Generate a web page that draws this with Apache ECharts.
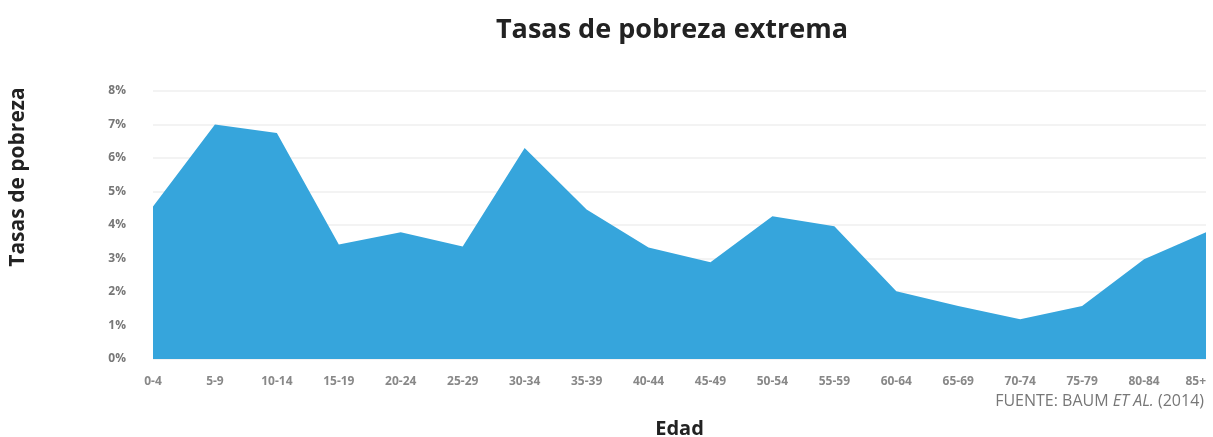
<!DOCTYPE html>
<html>
<head>
<meta charset="utf-8">
<script src="https://cdn.jsdelivr.net/npm/echarts@6/dist/echarts.min.js"></script>
<style>
  html, body { margin: 0; padding: 0; background: #fff; }
  #chart { width: 1213px; height: 437px; }
</style>
</head>
<body>
<div id="chart"></div>
<script>
  // grupos de edad
  const categories = ['0-4', '5-9', '10-14', '15-19', '20-24', '25-29', '30-34', '35-39', '40-44',
    '45-49', '50-54', '55-59', '60-64', '65-69', '70-74', '75-79', '80-84', '85+']
  // tasa de pobreza extrema (%)
  const rates = [4.55, 7.0, 6.75, 3.42, 3.78, 3.36, 6.3, 4.46, 3.33,
    2.89, 4.26, 3.96, 2.02, 1.58, 1.19, 1.58, 2.98, 3.78]
  const yTicks = { min: 0, max: 8, interval: 1 }

  const chart = echarts.init(document.getElementById('chart'))
  chart.setOption({
    animation: false,
    title: [{
      text: 'Tasas de pobreza extrema',
      left: 667,
      top: 12,
      textAlign: 'center',
      textStyle: { fontFamily: 'Open Sans', fontWeight: 'bold', fontSize: 27, color: '#222' }
    }, {
      text: 'FUENTE: BAUM {i|ET AL.} (2014)',
      right: 4,
      top: 388,
      textStyle: {
        fontFamily: 'Open Sans', fontWeight: 'normal', fontSize: 16, color: '#777',
        rich: { i: { fontFamily: 'Open Sans', fontStyle: 'italic', fontSize: 16, color: '#777' } }
      }
    }],
    // título vertical del eje y
    graphic: [{
      type: 'text',
      x: 18,
      y: 177,
      rotation: Math.PI / 2,
      style: {
        text: 'Tasas de pobreza',
        fontFamily: 'Open Sans',
        fontWeight: 'bold',
        fontSize: 21,
        fill: '#222',
        align: 'center',
        verticalAlign: 'middle'
      }
    }],
    grid: { left: 153, right: 7, top: 91, bottom: 78, outerBoundsMode: 'none', containLabel: false },
    xAxis: {
      type: 'category',
      data: categories,
      boundaryGap: false,
      name: 'Edad',
      nameLocation: 'middle',
      nameGap: 60,
      nameTextStyle: { fontFamily: 'Open Sans', fontWeight: 'bold', fontSize: 20, color: '#222' },
      axisLine: { show: false },
      axisTick: { show: false },
      axisLabel: {
        margin: 17, fontFamily: 'Open Sans', fontWeight: 'bold', fontSize: 12, color: '#888',
        interval: 0, alignMaxLabel: 'right'
      },
      splitLine: { show: false }
    },
    yAxis: {
      type: 'value',
      min: yTicks.min,
      max: yTicks.max,
      interval: yTicks.interval,
      axisLine: { show: false },
      axisTick: { show: false },
      axisLabel: { margin: 27, formatter: '{value}%', fontFamily: 'Open Sans', fontWeight: 'bold', fontSize: 12, color: '#777' },
      splitLine: { show: true, lineStyle: { color: '#f3f3f3', width: 2 } }
    },
    series: [{
      type: 'line',
      data: rates,
      symbol: 'none',
      lineStyle: { width: 0, color: '#36a5dc' },
      areaStyle: { color: '#36a5dc', opacity: 1 }
    }]
  })
</script>
</body>
</html>
